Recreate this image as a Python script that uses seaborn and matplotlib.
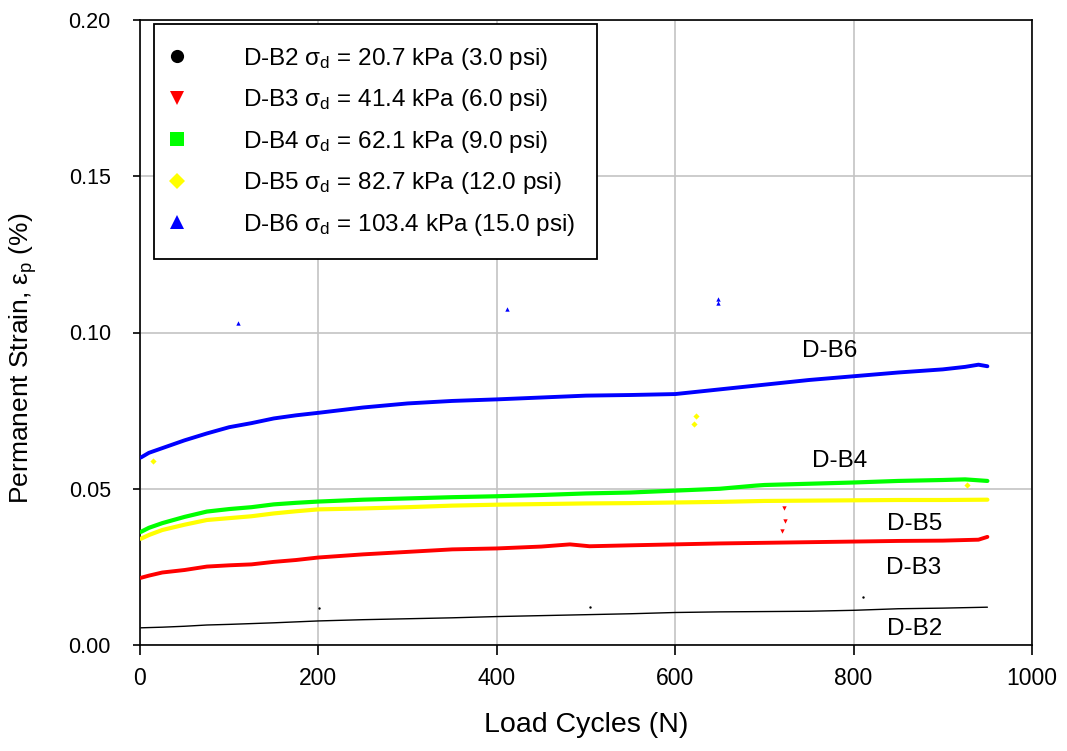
import matplotlib
matplotlib.use("Agg")
import matplotlib.pyplot as plt
from matplotlib.lines import Line2D
import numpy as np
import pandas as pd
import seaborn as sns

# ---- data: permanent strain (%) vs. load cycles ----
cyc_b6 = [1, 10, 25, 50, 75, 100, 125, 150, 175, 200, 250, 300, 350, 400, 450, 500,
          550, 600, 650, 700, 750, 800, 850, 900, 925, 940, 950]
eps_b6 = [0.0600, 0.0615, 0.0630, 0.0655, 0.0677, 0.0697, 0.0710, 0.0725, 0.0735, 0.0743,
          0.0760, 0.0773, 0.0781, 0.0786, 0.0792, 0.0798, 0.0800, 0.0803, 0.0818, 0.0833,
          0.0848, 0.0860, 0.0872, 0.0882, 0.0890, 0.0897, 0.0892]

cyc_b4 = [1, 10, 25, 50, 75, 100, 125, 150, 175, 200, 250, 300, 350, 400, 450, 500,
          550, 600, 650, 690, 700, 750, 800, 850, 900, 925, 950]
eps_b4 = [0.0362, 0.0375, 0.0390, 0.0410, 0.0427, 0.0435, 0.0441, 0.0450, 0.0455, 0.0459,
          0.0465, 0.0469, 0.0473, 0.0476, 0.0480, 0.0485, 0.0488, 0.0494, 0.0500, 0.0510,
          0.0512, 0.0516, 0.0520, 0.0525, 0.0528, 0.0530, 0.0525]

cyc_b5 = [1, 10, 25, 50, 75, 100, 125, 150, 175, 200, 250, 300, 350, 400, 450, 500,
          550, 600, 650, 700, 750, 800, 850, 900, 950]
eps_b5 = [0.0340, 0.0352, 0.0368, 0.0385, 0.0400, 0.0406, 0.0412, 0.0421, 0.0428, 0.0434,
          0.0437, 0.0441, 0.0446, 0.0449, 0.0451, 0.0453, 0.0454, 0.0456, 0.0458, 0.0461,
          0.0462, 0.0463, 0.0464, 0.0464, 0.0465]

cyc_b3 = [1, 10, 25, 50, 75, 100, 125, 150, 175, 200, 250, 300, 350, 400, 450, 482,
          504, 550, 600, 650, 700, 750, 800, 850, 900, 940, 950]
eps_b3 = [0.0215, 0.0222, 0.0232, 0.0240, 0.0251, 0.0255, 0.0258, 0.0266, 0.0272, 0.0280,
          0.0290, 0.0298, 0.0306, 0.0309, 0.0315, 0.0322, 0.0316, 0.0319, 0.0322, 0.0325,
          0.0327, 0.0329, 0.0331, 0.0333, 0.0334, 0.0337, 0.0346]

cyc_b2 = [1, 25, 50, 75, 100, 150, 200, 250, 300, 350, 400, 450, 500, 550, 600, 650,
          700, 750, 800, 850, 900, 950]
eps_b2 = [0.0055, 0.0057, 0.0060, 0.0064, 0.0066, 0.0071, 0.0077, 0.0081, 0.0084, 0.0087,
          0.0091, 0.0094, 0.0097, 0.0100, 0.0104, 0.0106, 0.0107, 0.0108, 0.0111, 0.0116,
          0.0118, 0.0121]

# isolated readings away from the main trends
spike_b6_cyc = [110, 411, 648, 648]
spike_b6_eps = [0.1029, 0.1075, 0.1094, 0.1108]
spike_b5_cyc = [15, 621, 623, 927]
spike_b5_eps = [0.0589, 0.0707, 0.0733, 0.0512]
spike_b3_cyc = [720, 723, 722]
spike_b3_eps = [0.0365, 0.0398, 0.0439]
spike_b2_cyc = [201, 504, 811]
spike_b2_eps = [0.0117, 0.0123, 0.0153]

specimens = ["D-B2", "D-B3", "D-B4", "D-B5", "D-B6"]
legend_labels = [
    r"D-B2 $\sigma_\mathrm{d}$ = 20.7 kPa (3.0 psi)",
    r"D-B3 $\sigma_\mathrm{d}$ = 41.4 kPa (6.0 psi)",
    r"D-B4 $\sigma_\mathrm{d}$ = 62.1 kPa (9.0 psi)",
    r"D-B5 $\sigma_\mathrm{d}$ = 82.7 kPa (12.0 psi)",
    r"D-B6 $\sigma_\mathrm{d}$ = 103.4 kPa (15.0 psi)",
]
x_ticks = [0, 200, 400, 600, 800, 1000]
y_ticks = [0.00, 0.05, 0.10, 0.15, 0.20]

colors = {"D-B2": "#000000", "D-B3": "#ff0000", "D-B4": "#00ff00",
          "D-B5": "#ffff00", "D-B6": "#0000ff"}
markers = {"D-B2": "o", "D-B3": "v", "D-B4": "s", "D-B5": "D", "D-B6": "^"}
msizes = {"D-B2": 9.5, "D-B3": 10.5, "D-B4": 10, "D-B5": 8.5, "D-B6": 10.5}
widths = {"D-B2": 1.0, "D-B3": 2.8, "D-B4": 3.0, "D-B5": 3.0, "D-B6": 2.8}
spike_size = {"D-B2": 3, "D-B3": 10, "D-B5": 10, "D-B6": 10}

curves = pd.concat([
    pd.DataFrame({"N": cyc_b2, "eps": eps_b2, "spec": "D-B2"}),
    pd.DataFrame({"N": cyc_b3, "eps": eps_b3, "spec": "D-B3"}),
    pd.DataFrame({"N": cyc_b4, "eps": eps_b4, "spec": "D-B4"}),
    pd.DataFrame({"N": cyc_b5, "eps": eps_b5, "spec": "D-B5"}),
    pd.DataFrame({"N": cyc_b6, "eps": eps_b6, "spec": "D-B6"}),
], ignore_index=True)

spikes = pd.concat([
    pd.DataFrame({"N": spike_b2_cyc, "eps": spike_b2_eps, "spec": "D-B2"}),
    pd.DataFrame({"N": spike_b3_cyc, "eps": spike_b3_eps, "spec": "D-B3"}),
    pd.DataFrame({"N": spike_b5_cyc, "eps": spike_b5_eps, "spec": "D-B5"}),
    pd.DataFrame({"N": spike_b6_cyc, "eps": spike_b6_eps, "spec": "D-B6"}),
], ignore_index=True)

# ---- style ----
sns.set_theme(style="whitegrid")
plt.rcParams["font.family"] = ["Liberation Sans", "DejaVu Sans"]
plt.rcParams["mathtext.fontset"] = "custom"
plt.rcParams["mathtext.rm"] = "Liberation Sans"
plt.rcParams["mathtext.it"] = "Liberation Sans"
plt.rcParams["mathtext.sf"] = "Liberation Sans"
for key in ("text.color", "axes.labelcolor", "xtick.color", "ytick.color"):
    plt.rcParams[key] = "black"

fig = plt.figure(figsize=(10.67, 7.51), dpi=100)
ax = fig.add_axes([140 / 1067, 1 - 645 / 751, 892 / 1067, 625 / 751])

for spec in specimens:
    sub = curves[curves["spec"] == spec]
    sns.lineplot(data=sub, x="N", y="eps", color=colors[spec], lw=widths[spec],
                 ax=ax, legend=False, zorder=3)
    sp = spikes[spikes["spec"] == spec]
    if len(sp):
        sns.scatterplot(data=sp, x="N", y="eps", color=colors[spec],
                        marker=markers[spec], s=spike_size[spec], linewidth=0, ax=ax,
                        legend=False, zorder=3)

ax.set_xlim(0, 1000)
ax.set_ylim(0, 0.20)
ax.set_xticks(x_ticks)
ax.set_yticks(y_ticks)
ax.set_yticklabels([f"{v:.2f}" for v in y_ticks], fontsize=15.5)
ax.set_xticklabels([str(v) for v in x_ticks], fontsize=16.5)

ax.grid(True, color="#c4c4c4", lw=1.2)
ax.set_axisbelow(True)
for s in ax.spines.values():
    s.set_color("black")
    s.set_linewidth(1.2)
ax.tick_params(axis="x", bottom=True, length=7, width=1.2, color="black", pad=9)
ax.tick_params(axis="y", left=True, length=5, width=1.2, color="black", pad=16)

ax.set_xlabel("Load Cycles (N)", fontsize=20.5)
ax.set_ylabel(r"Permanent Strain, $\varepsilon_\mathrm{p}$ (%)", fontsize=19)
ax.xaxis.set_label_coords(0.5, -0.108)
ax.yaxis.set_label_coords(-0.113, 0.458)

# curve tags
tags = [("D-B6", 773.5, 0.0922), ("D-B4", 784.8, 0.0571), ("D-B5", 868.5, 0.0368),
        ("D-B3", 867.7, 0.0227), ("D-B2", 868.8, 0.0032)]
for txt, xv, yv in tags:
    ax.text(xv, yv, txt, ha="center", va="baseline", fontsize=17.5, zorder=4)

handles = [Line2D([], [], ls="none", marker=markers[s], color=colors[s],
                  markersize=msizes[s], markeredgewidth=0) for s in specimens]
leg = ax.legend(handles, legend_labels, loc="upper left",
                bbox_to_anchor=(14 / 892, 621 / 625), borderaxespad=0,
                fontsize=17.5, frameon=True, fancybox=False, framealpha=1,
                edgecolor="black", borderpad=0.885, handlelength=0.1,
                handletextpad=2.68, labelspacing=0.64)
leg.get_frame().set_linewidth(1.3)
leg.set_zorder(5)

fig.savefig("out.png", dpi=100)
